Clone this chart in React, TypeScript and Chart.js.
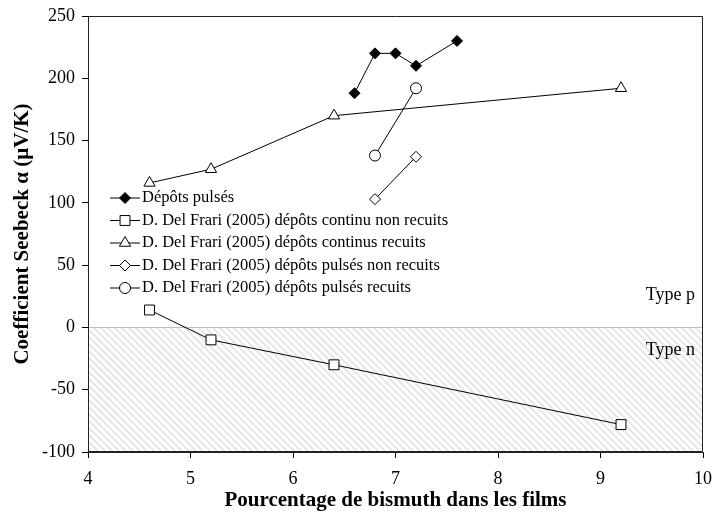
import React, { useEffect, useRef } from 'react';
import { Chart, registerables } from 'chart.js';
Chart.register(...registerables);

const SERIF = "'Liberation Serif', 'Times New Roman', serif";

// Dépôts pulsés
const pulsesX = [6.6, 6.8, 7.0, 7.2, 7.6];
const pulsesY = [188, 220, 220, 210, 230];
// D. Del Frari (2005) dépôts continu non recuits
const contNonX = [4.6, 5.2, 6.4, 9.2];
const contNonY = [14, -10, -30, -78];
// D. Del Frari (2005) dépôts continus recuits
const contRecX = [4.6, 5.2, 6.4, 9.2];
const contRecY = [116, 127, 170, 192];
// D. Del Frari (2005) dépôts pulsés non recuits
const pulsNonX = [6.8, 7.2];
const pulsNonY = [103, 137];
// D. Del Frari (2005) dépôts pulsés recuits
const pulsRecX = [6.8, 7.2];
const pulsRecY = [138, 192];

const seriesLabels = [
  'Dépôts pulsés',
  'D. Del Frari (2005) dépôts continu non recuits',
  'D. Del Frari (2005) dépôts continus recuits',
  'D. Del Frari (2005) dépôts pulsés non recuits',
  'D. Del Frari (2005) dépôts pulsés recuits',
];
const xTickValues = [4, 5, 6, 7, 8, 9, 10];
const yTickValues = [-100, -50, 0, 50, 100, 150, 200, 250];
const xTitle = 'Pourcentage de bismuth dans les films';
const yTitle = 'Coefficient Seebeck α (µV/K)';
const typeLabels = ['Type p', 'Type n'];

const toPts = (xs: number[], ys: number[]) => xs.map((x, i) => ({ x, y: ys[i] }));

const styles = [
  { pointStyle: 'rectRot', radius: 5.5, fill: '#000000' },
  { pointStyle: 'rect', radius: 7, fill: '#ffffff' },
  { pointStyle: 'triangle', radius: 6.5, fill: '#ffffff' },
  { pointStyle: 'rectRot', radius: 5.5, fill: '#ffffff' },
  { pointStyle: 'circle', radius: 5.5, fill: '#ffffff' },
];

function drawMarker(ctx: CanvasRenderingContext2D, style: string, x: number, y: number, r: number, fill: string) {
  ctx.beginPath();
  if (style === 'rectRot') {
    ctx.moveTo(x - r, y);
    ctx.lineTo(x, y - r);
    ctx.lineTo(x + r, y);
    ctx.lineTo(x, y + r);
    ctx.closePath();
  } else if (style === 'rect') {
    const s = Math.SQRT1_2 * r;
    ctx.rect(x - s, y - s, 2 * s, 2 * s);
  } else if (style === 'triangle') {
    ctx.moveTo(x, y - r);
    ctx.lineTo(x + 0.866 * r, y + 0.5 * r);
    ctx.lineTo(x - 0.866 * r, y + 0.5 * r);
    ctx.closePath();
  } else {
    ctx.arc(x, y, r, 0, Math.PI * 2);
  }
  ctx.fillStyle = fill;
  ctx.fill();
  ctx.lineWidth = 1;
  ctx.strokeStyle = '#000';
  ctx.stroke();
}

const decorPlugin = {
  id: 'decor',
  beforeDatasetsDraw(chart: any) {
    const { ctx, chartArea, scales } = chart;
    const y0 = scales.y.getPixelForValue(0);
    const { left, right, bottom, top } = chartArea;
    ctx.save();
    // hatch below zero
    ctx.beginPath();
    ctx.rect(left + 1, y0, right - left - 2, bottom - y0 - 1);
    ctx.clip();
    ctx.strokeStyle = '#e6e6e6';
    ctx.lineWidth = 2;
    const h = bottom - y0;
    for (let k = left - h - 10; k < right + 10; k += 7) {
      ctx.beginPath();
      ctx.moveTo(k, y0);
      ctx.lineTo(k + h, bottom);
      ctx.stroke();
    }
    ctx.restore();
    ctx.save();
    // zero line
    ctx.strokeStyle = '#c0c0c0';
    ctx.lineWidth = 1;
    ctx.beginPath();
    ctx.moveTo(left, Math.round(y0) + 0.5);
    ctx.lineTo(right, Math.round(y0) + 0.5);
    ctx.stroke();
    // frame
    ctx.strokeStyle = '#222';
    ctx.beginPath();
    const L = Math.round(left) + 0.5, T = Math.round(top) + 0.5;
    const R = Math.round(right) - 0.5, B = Math.round(bottom) - 0.5;
    ctx.moveTo(L, B);
    ctx.lineTo(L, T);
    ctx.lineTo(R, T);
    ctx.lineTo(R, B);
    ctx.lineTo(L, B);
    ctx.stroke();
    // type labels
    ctx.fillStyle = '#000';
    ctx.font = `18px ${SERIF}`;
    ctx.textAlign = 'right';
    ctx.textBaseline = 'middle';
    ctx.fillText(typeLabels[0], right - 8, scales.y.getPixelForValue(26));
    ctx.fillText(typeLabels[1], right - 8, scales.y.getPixelForValue(-18));
    ctx.restore();
  },
  afterDatasetsDraw(chart: any) {
    const { ctx } = chart;
    ctx.save();
    const x0 = 110, x1 = 140, tx = 142, y0 = 198, dy = 22.5;
    seriesLabels.forEach((lab, i) => {
      const y = y0 + i * dy;
      ctx.strokeStyle = '#000';
      ctx.lineWidth = 1;
      ctx.beginPath();
      ctx.moveTo(x0, y);
      ctx.lineTo(x1, y);
      ctx.stroke();
      const st = styles[i];
      drawMarker(ctx, st.pointStyle, (x0 + x1) / 2, y, st.radius, st.fill);
      ctx.fillStyle = '#000';
      ctx.font = `16.5px ${SERIF}`;
      ctx.textAlign = 'left';
      ctx.textBaseline = 'middle';
      ctx.fillText(lab, tx, y);
    });
    ctx.restore();
  },
};

export default function App() {
  const ref = useRef<HTMLCanvasElement | null>(null);
  useEffect(() => {
    if (!ref.current) return;
    const all = [
      toPts(pulsesX, pulsesY),
      toPts(contNonX, contNonY),
      toPts(contRecX, contRecY),
      toPts(pulsNonX, pulsNonY),
      toPts(pulsRecX, pulsRecY),
    ];
    const datasets = all.map((d, i) => ({
      label: seriesLabels[i],
      data: d,
      showLine: true,
      borderColor: '#000',
      borderWidth: 1,
      pointStyle: styles[i].pointStyle,
      pointRadius: styles[i].radius,
      pointBackgroundColor: styles[i].fill,
      pointBorderColor: '#000',
      pointBorderWidth: 1,
      pointHoverRadius: styles[i].radius,
    }));
    const chart = new Chart(ref.current, {
      type: 'scatter',
      data: { datasets },
      plugins: [decorPlugin],
      options: {
        animation: false,
        responsive: true,
        maintainAspectRatio: false,
        layout: { padding: { top: 16, right: 11, left: 0, bottom: 0 } },
        plugins: { legend: { display: false }, tooltip: { enabled: false } },
        scales: {
          x: {
            type: 'linear',
            min: 4,
            max: 10,
            afterBuildTicks: (s: any) => { s.ticks = xTickValues.map((v) => ({ value: v })); },
            afterFit: (s: any) => { s.height = 66; s.paddingLeft = 0; s.paddingRight = 0; },
            ticks: { color: '#000', font: { family: SERIF, size: 18 }, padding: 10 },
            grid: { drawOnChartArea: false, tickLength: 6, color: '#000' },
            border: { display: true, color: '#222' },
            title: { display: true, text: xTitle, color: '#000', font: { family: SERIF, size: 21, weight: 'bold' }, padding: { top: 0, bottom: 5 } },
          },
          y: {
            type: 'linear',
            min: -100,
            max: 250,
            afterBuildTicks: (s: any) => { s.ticks = yTickValues.map((v) => ({ value: v })); },
            afterFit: (s: any) => { s.width = 88; s.paddingTop = 0; s.paddingBottom = 0; },
            ticks: { color: '#000', font: { family: SERIF, size: 18 }, padding: 7 },
            grid: { drawOnChartArea: false, tickLength: 6, color: '#000' },
            border: { display: true, color: '#222' },
            title: { display: true, text: yTitle, color: '#000', font: { family: SERIF, size: 21, weight: 'bold' }, padding: { top: 10, bottom: 0 } },
          },
        },
      },
    } as any);
    return () => chart.destroy();
  }, []);
  return (
    <div style={{ position: 'absolute', left: 0, top: 0, width: 714, height: 518, background: '#fff' }}>
      <canvas ref={ref} />
    </div>
  );
}
